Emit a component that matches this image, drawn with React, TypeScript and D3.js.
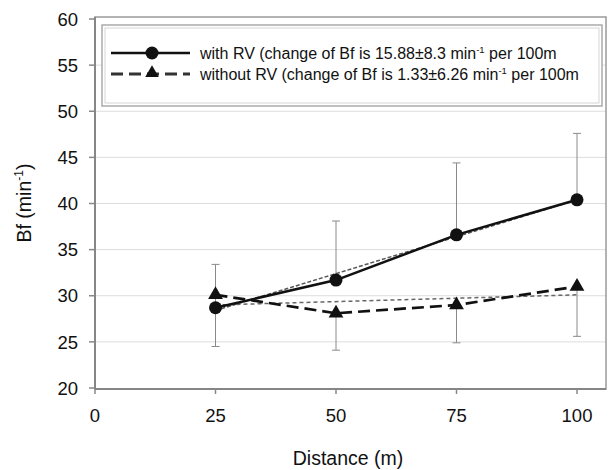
import React from "react";
import * as d3 from "d3";

const distances = [25, 50, 75, 100];
const withRV = [28.7, 31.7, 36.6, 40.4];
const withRVUpper = [33.4, 38.1, 44.4, 47.6];
const withoutRV = [30.1, 28.1, 29.0, 31.0];
const withoutRVLower = [24.5, 24.1, 24.9, 25.6];
const trendX = [25, 100];
const withRVTrend = [28.4, 40.4];
const withoutRVTrend = [29.0, 30.1];
const xTicks = [0, 25, 50, 75, 100];
const yTicks = [20, 25, 30, 35, 40, 45, 50, 55, 60];
const gridValues = [25, 30, 35, 40, 45, 50, 55];
const legendLabels = [
  { pre: "with RV (change of Bf is 15.88±8.3 min", post: " per 100m" },
  { pre: "without RV (change of Bf is 1.33±6.26 min", post: " per 100m" },
];

const W = 609;
const H = 470;
const L = 95, R = 606, T = 17, B = 389;
const font = "Liberation Sans, Arial, sans-serif";

export default function App() {
  const x = d3.scaleLinear().domain([0, 100]).range([L, 577]);
  const y = d3.scaleLinear().domain([20, 60]).range([388, 19]);
  const line = d3
    .line<[number, number]>()
    .x((d) => x(d[0]))
    .y((d) => y(d[1]));
  const withPts = distances.map((d, i) => [d, withRV[i]] as [number, number]);
  const withoutPts = distances.map((d, i) => [d, withoutRV[i]] as [number, number]);
  const tri = d3.symbol().type(d3.symbolTriangle).size(95)() as string;
  const triSmall = d3.symbol().type(d3.symbolTriangle).size(80)() as string;

  return (
    <svg width={W} height={H} style={{ position: "absolute", left: 0, top: 0, background: "#fff" }}>
      <rect x={0} y={0} width={W} height={H} fill="#fff" />
      {/* gridlines */}
      {gridValues.map((v) => (
        <line key={v} x1={L} x2={R} y1={y(v)} y2={y(v)} stroke="#dddddd" strokeWidth={1} />
      ))}
      {/* plot frame */}
      <rect x={L} y={T} width={R - L} height={B - T} fill="none" stroke="#9a9a9a" strokeWidth={1.5} />
      {/* axes */}
      <line x1={L} x2={L} y1={T} y2={B} stroke="#777" strokeWidth={1.5} />
      <line x1={L} x2={R} y1={B} y2={B} stroke="#777" strokeWidth={1.5} />
      {yTicks.map((t) => (
        <g key={t}>
          <line x1={L - 6} x2={L} y1={y(t)} y2={y(t)} stroke="#888" strokeWidth={1.5} />
          <text x={78} y={y(t)} dy="0.36em" textAnchor="end" fontFamily={font} fontSize={18.5} fill="#111">
            {t}
          </text>
        </g>
      ))}
      {xTicks.map((t) => (
        <g key={t}>
          <line x1={x(t)} x2={x(t)} y1={B} y2={B + 5} stroke="#888" strokeWidth={1.5} />
          <text x={x(t)} y={422} textAnchor="middle" fontFamily={font} fontSize={18.5} fill="#111">
            {t}
          </text>
        </g>
      ))}
      <text x={348} y={465} textAnchor="middle" fontFamily={font} fontSize={19.5} fill="#111">
        Distance (m)
      </text>
      <text
        transform={`translate(31, ${(T + B) / 2}) rotate(-90)`}
        textAnchor="middle"
        fontFamily={font}
        fontSize={19.5}
        fill="#111"
      >
        Bf (min
        <tspan fontSize={12} dy={-8}>-1</tspan>
        <tspan dy={8}>)</tspan>
      </text>

      {/* error bars */}
      {distances.map((d, i) => (
        <g key={"e1" + d} stroke="#8a8a8a" strokeWidth={1}>
          <line x1={x(d)} x2={x(d)} y1={y(withRV[i])} y2={y(withRVUpper[i])} />
          <line x1={x(d) - 4} x2={x(d) + 4} y1={y(withRVUpper[i])} y2={y(withRVUpper[i])} />
        </g>
      ))}
      {distances.map((d, i) => (
        <g key={"e2" + d} stroke="#8a8a8a" strokeWidth={1}>
          <line x1={x(d)} x2={x(d)} y1={y(withoutRV[i])} y2={y(withoutRVLower[i])} />
          <line x1={x(d) - 4} x2={x(d) + 4} y1={y(withoutRVLower[i])} y2={y(withoutRVLower[i])} />
        </g>
      ))}

      {/* trend lines */}
      <line
        x1={x(trendX[0])}
        x2={x(trendX[1])}
        y1={y(withoutRVTrend[0])}
        y2={y(withoutRVTrend[1])}
        stroke="#666"
        strokeWidth={1.5}
        strokeDasharray="4,3"
      />
      <line
        x1={x(trendX[0])}
        x2={x(trendX[1])}
        y1={y(withRVTrend[0])}
        y2={y(withRVTrend[1])}
        stroke="#555"
        strokeWidth={1.5}
        strokeDasharray="4,2"
      />

      {/* series lines */}
      <path d={line(withoutPts) as string} fill="none" stroke="#111" strokeWidth={2.7} strokeDasharray="12,6" />
      <path d={line(withPts) as string} fill="none" stroke="#111" strokeWidth={2.5} />

      {withoutPts.map((p) => (
        <path key={"t" + p[0]} d={tri} transform={`translate(${x(p[0])},${y(p[1])})`} fill="#111" />
      ))}
      {withPts.map((p) => (
        <circle key={"c" + p[0]} cx={x(p[0])} cy={y(p[1])} r={6.5} fill="#111" />
      ))}

      {/* legend */}
      <rect x={102} y={25} width={500} height={81} fill="#fff" stroke="#aaa" strokeWidth={1.5} />
      <rect x={105} y={28} width={494} height={75} fill="none" stroke="#d5d5d5" strokeWidth={1} />
      <line x1={111} x2={190} y1={53} y2={53} stroke="#111" strokeWidth={2.5} />
      <circle cx={152} cy={53} r={6.5} fill="#111" />
      <line x1={111} x2={190} y1={74} y2={74} stroke="#333" strokeWidth={3} strokeDasharray="12,6" />
      <path d={triSmall} transform="translate(152,73)" fill="#111" />
      {legendLabels.map((lab, i) => (
        <text key={i} x={200} y={53 + i * 21} dy="0.36em" fontFamily={font} fontSize={16} fill="#111">
          {lab.pre}
          <tspan fontSize={9.5} dy={-6}>-1</tspan>
          <tspan dy={6}>{lab.post}</tspan>
        </text>
      ))}
    </svg>
  );
}
